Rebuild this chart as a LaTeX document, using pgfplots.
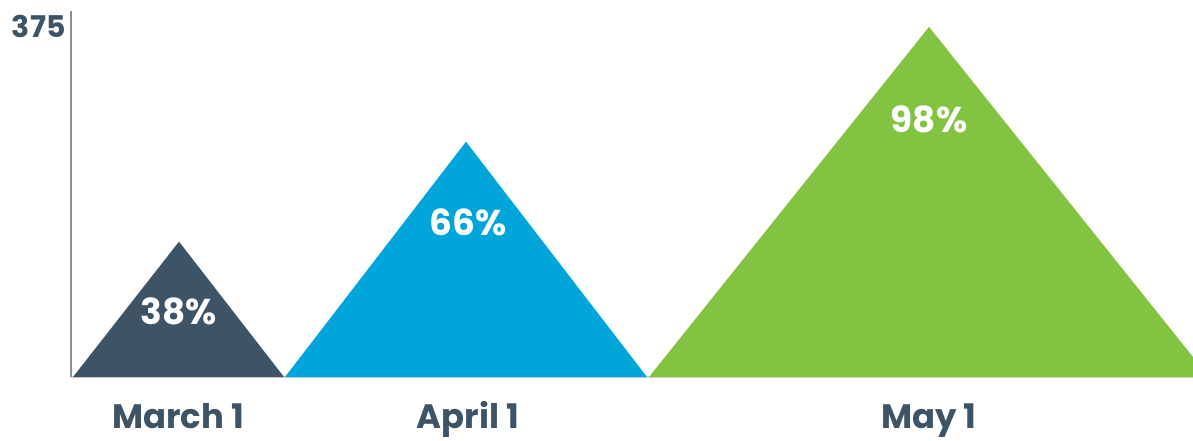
\documentclass[border=0pt]{standalone}
\usepackage{pgfplots}
\pgfplotsset{compat=1.18}
\usepackage{fontspec}
\setmainfont{Poppins}
\definecolor{slate}{HTML}{3D5366}
\definecolor{skyb}{HTML}{00A6DA}
\definecolor{lgreen}{HTML}{82C341}
\definecolor{axgray}{HTML}{8A8D91}
\definecolor{basegray}{HTML}{D3D6D9}
\begin{document}
\begin{tikzpicture}
\begin{axis}[
  at={(0,0)}, anchor=south west,
  scale only axis, width=1122bp, height=366bp,
  xmin=0, xmax=1122, ymin=0, ymax=392,
  axis lines=left,
  axis line style={-},
  x axis line style={basegray, line width=1.5bp},
  y axis line style={axgray, line width=1.5bp},
  major tick length=0pt,
  ytick={375},
  yticklabel style={font=\fontsize{30}{33}\selectfont\bfseries, text=slate, xshift=-2bp},
  /pgf/number format/assume math mode=true,
  xtick={107,397,858},
  xticklabels={March 1, April 1, May 1},
  xticklabel style={font=\fontsize{34}{37}\selectfont\bfseries, text=slate, anchor=base, yshift=-51bp},
  clip=true,
]
\addplot[fill=slate, draw=none] coordinates {(2,0) (108,145) (213,0)} -- cycle;
\addplot[fill=skyb, draw=none] coordinates {(214,0) (395,252) (576,0)} -- cycle;
\addplot[fill=lgreen, draw=none] coordinates {(578,0) (858,375) (1138,0)} -- cycle;
\node[text=white, font=\fontsize{36}{38}\selectfont\bfseries] at (axis cs:108,70) {38\%};
\node[text=white, font=\fontsize{36}{38}\selectfont\bfseries] at (axis cs:397,166) {66\%};
\node[text=white, font=\fontsize{36}{38}\selectfont\bfseries] at (axis cs:858,276) {98\%};
\end{axis}
\pgfresetboundingbox
\useasboundingbox (-71bp,-64bp) rectangle (1122bp,377bp);
\end{tikzpicture}
\end{document}
